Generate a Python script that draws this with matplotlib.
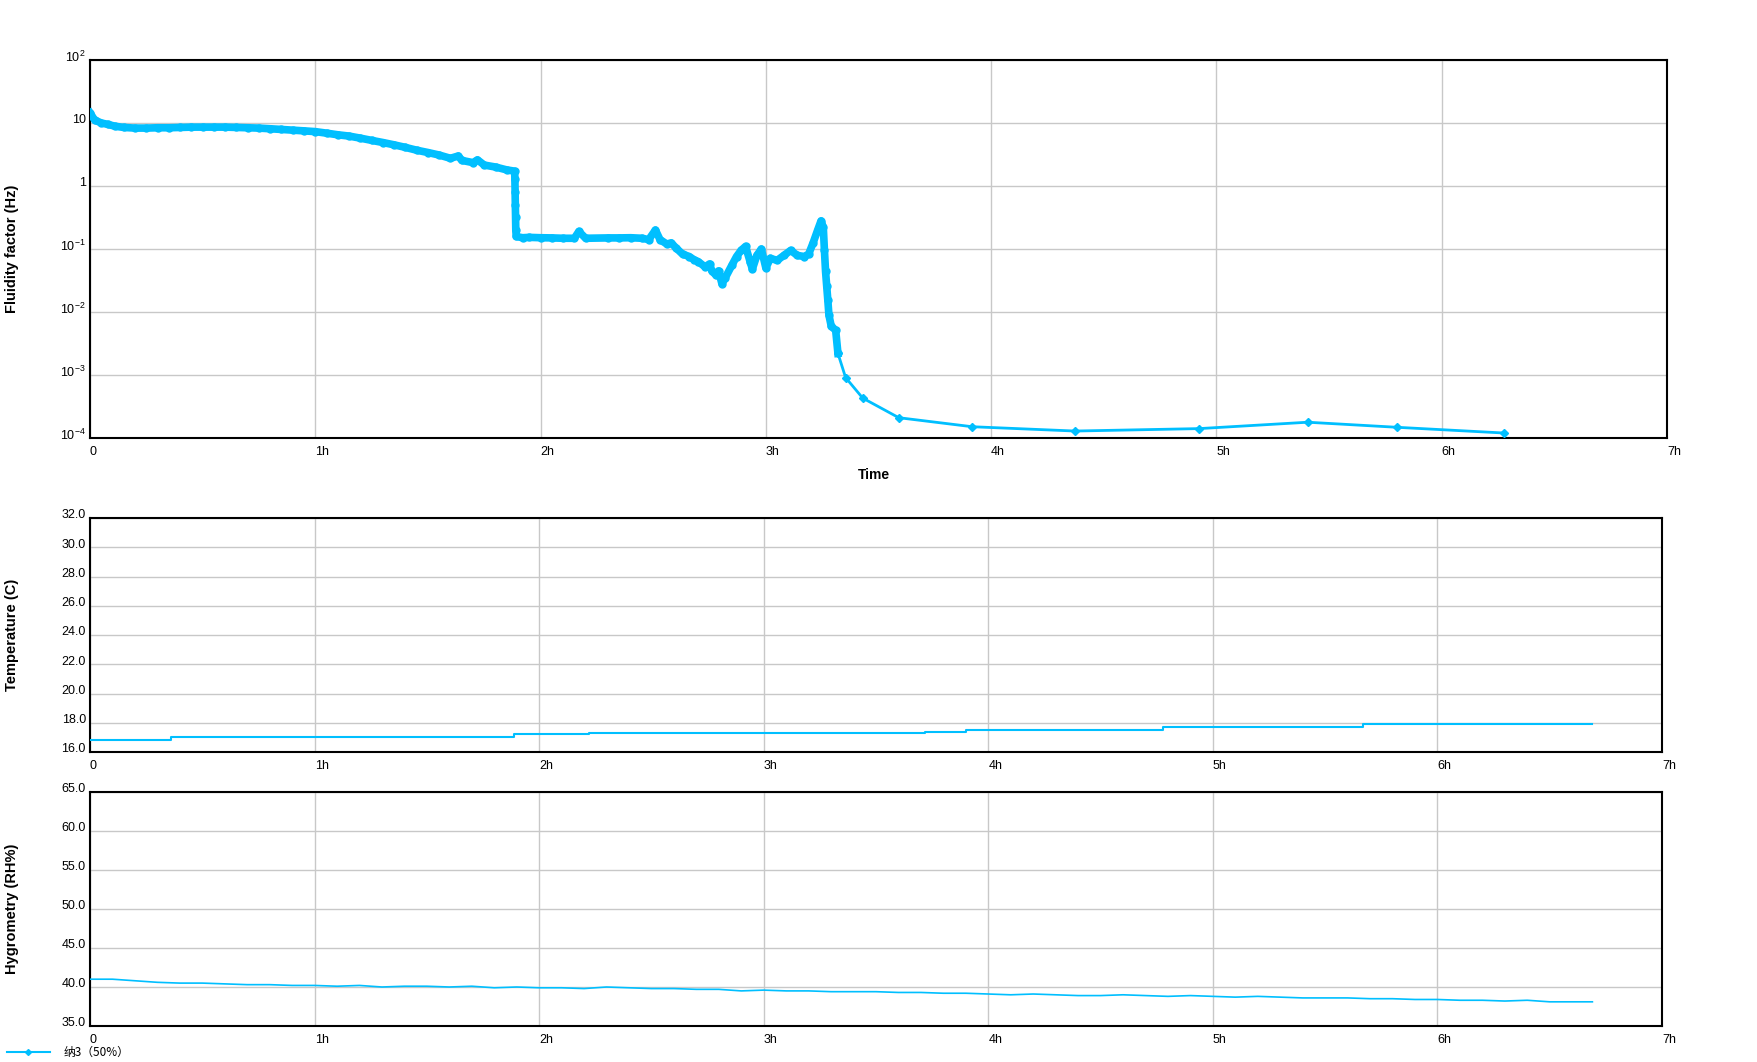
import matplotlib
matplotlib.use("Agg")
import matplotlib.pyplot as plt
import matplotlib.transforms as mtransforms
from matplotlib.ticker import FixedLocator, NullLocator

plt.rcParams['font.family'] = ['Liberation Sans', 'DejaVu Sans']
plt.rcParams['mathtext.fontset'] = 'custom'
plt.rcParams['mathtext.rm'] = 'Liberation Sans'
plt.rcParams['mathtext.it'] = 'Liberation Sans'

# ---- данные (время в часах) ----
hour_ticks = [0, 1, 2, 3, 4, 5, 6, 7]
hour_labels = ['0', '1h', '2h', '3h', '4h', '5h', '6h', '7h']

# fluidity factor, Hz (плотная часть до 3.32h, дальше редкие точки)
flu_t = [0.00, 0.02, 0.05, 0.08, 0.11, 0.15, 0.20, 0.25, 0.30, 0.35, 0.40, 0.45,
         0.50, 0.55, 0.60, 0.65, 0.70, 0.75, 0.80, 0.85, 0.90, 0.95, 1.00, 1.05,
         1.10, 1.15, 1.20, 1.25, 1.30, 1.35, 1.40, 1.45, 1.50, 1.55, 1.60, 1.635,
         1.65, 1.70, 1.72, 1.75, 1.80, 1.85, 1.885,
         1.886, 1.887, 1.888, 1.889, 1.890, 1.892,
         1.92, 1.95, 2.00, 2.05, 2.10, 2.15, 2.17, 2.20, 2.30, 2.35, 2.40, 2.45,
         2.48, 2.51, 2.53, 2.56, 2.58, 2.60, 2.63, 2.66, 2.68, 2.70, 2.73, 2.75,
         2.76, 2.78, 2.79, 2.805, 2.82, 2.85, 2.87, 2.89, 2.91, 2.93, 2.94, 2.96,
         2.98, 3.00, 3.02, 3.05, 3.08, 3.11, 3.14, 3.17, 3.19, 3.21, 3.23, 3.245,
         3.255, 3.26, 3.265, 3.27, 3.275, 3.28, 3.29, 3.31, 3.32,
         3.354, 3.43, 3.59, 3.916, 4.372, 4.924, 5.405, 5.80, 6.276]
flu_v = [14.5, 11.2, 10.0, 9.5, 8.9, 8.5, 8.3, 8.3, 8.4, 8.4, 8.5, 8.6,
         8.6, 8.6, 8.6, 8.5, 8.4, 8.3, 8.1, 7.9, 7.7, 7.5, 7.3, 6.9,
         6.5, 6.2, 5.75, 5.3, 4.9, 4.5, 4.1, 3.7, 3.4, 3.1, 2.75, 3.0,
         2.55, 2.35, 2.6, 2.15, 2.0, 1.8, 1.72,
         1.3, 0.8, 0.5, 0.32, 0.2, 0.158,
         0.151, 0.153, 0.151, 0.150, 0.148, 0.148, 0.19, 0.148, 0.150, 0.150, 0.151, 0.148,
         0.141, 0.20, 0.141, 0.120, 0.125, 0.105, 0.083, 0.076, 0.068, 0.063, 0.052, 0.058,
         0.045, 0.038, 0.045, 0.028, 0.035, 0.056, 0.076, 0.095, 0.11, 0.063, 0.048, 0.079,
         0.100, 0.050, 0.071, 0.066, 0.079, 0.095, 0.079, 0.076, 0.083, 0.126, 0.20, 0.28,
         0.22, 0.095, 0.044, 0.026, 0.0155, 0.0089, 0.0060, 0.0051, 0.0022,
         0.00091, 0.00043, 0.00021, 0.000151, 0.000129, 0.000141, 0.000178, 0.000148, 0.000120]
n_dense = 106  # сколько точек в плотной части

# температура, ступеньки
temp_t = [0, 0.36, 1.89, 2.22, 3.72, 3.90, 4.78, 5.67, 6.69]
temp_v = [16.8, 17.0, 17.2, 17.3, 17.4, 17.5, 17.7, 17.9, 17.9]

# влажность, шаг 0.1h
hum_t = [0.0, 0.1, 0.2, 0.3, 0.4, 0.5, 0.6, 0.7, 0.8, 0.9, 1.0, 1.1, 1.2, 1.3, 1.4,
         1.5, 1.6, 1.7, 1.8, 1.9, 2.0, 2.1, 2.2, 2.3, 2.4, 2.5, 2.6, 2.7, 2.8, 2.9,
         3.0, 3.1, 3.2, 3.3, 3.4, 3.5, 3.6, 3.7, 3.8, 3.9, 4.0, 4.1, 4.2, 4.3, 4.4,
         4.5, 4.6, 4.7, 4.8, 4.9, 5.0, 5.1, 5.2, 5.3, 5.4, 5.5, 5.6, 5.7, 5.8, 5.9,
         6.0, 6.1, 6.2, 6.3, 6.4, 6.5, 6.6, 6.69]
hum_v = [41.0, 41.0, 40.8, 40.6, 40.5, 40.5, 40.4, 40.3, 40.3, 40.2, 40.2, 40.1, 40.2, 40.0, 40.1,
         40.1, 40.0, 40.1, 39.9, 40.0, 39.9, 39.9, 39.8, 40.0, 39.9, 39.8, 39.8, 39.7, 39.7, 39.5,
         39.6, 39.5, 39.5, 39.4, 39.4, 39.4, 39.3, 39.3, 39.2, 39.2, 39.1, 39.0, 39.1, 39.0, 38.9,
         38.9, 39.0, 38.9, 38.8, 38.9, 38.8, 38.7, 38.8, 38.7, 38.6, 38.6, 38.6, 38.5, 38.5, 38.4,
         38.4, 38.3, 38.3, 38.2, 38.3, 38.1, 38.1, 38.1]

series_name = '纳3（50%）'
blue = '#00BFFF'
grid_c = '#c8c8c8'

W, H = 1757, 1062
fig = plt.figure(figsize=(W / 100, H / 100), dpi=100)

ax1 = fig.add_axes([90 / W, 1 - 438 / H, (1667 - 90) / W, (438 - 60) / H])
ax2 = fig.add_axes([90 / W, 1 - 752 / H, (1662 - 90) / W, (752 - 518) / H])
ax3 = fig.add_axes([90 / W, 1 - 1026 / H, (1662 - 90) / W, (1026 - 792) / H])

# верхний график
ax1.set_yscale('log')
ax1.plot(flu_t[:n_dense], flu_v[:n_dense], color=blue, lw=5.5, marker='o', ms=5,
         solid_joinstyle='round', zorder=3)
line, = ax1.plot(flu_t[n_dense - 1:], flu_v[n_dense - 1:], color=blue, lw=2,
                 marker='D', ms=4, zorder=3)
ax1.set_ylim(1e-4, 1e2)
ax1.yaxis.set_major_locator(FixedLocator([1e-4, 1e-3, 1e-2, 1e-1, 1, 10, 100]))
ax1.yaxis.set_minor_locator(NullLocator())
ax1.set_yticklabels(['$10^{-4}$', '$10^{-3}$', '$10^{-2}$', '$10^{-1}$', '1', '10', '$10^{2}$'])

ax2.plot(temp_t, temp_v, color=blue, lw=1.5, drawstyle='steps-post', zorder=3)
ax2.set_ylim(16, 32)
ax2.set_yticks([16, 18, 20, 22, 24, 26, 28, 30, 32])
ax2.set_yticklabels(['%.1f' % v for v in [16, 18, 20, 22, 24, 26, 28, 30, 32]])

ax3.plot(hum_t, hum_v, color=blue, lw=1.2, zorder=3)
ax3.set_ylim(35, 65)
ax3.set_yticks([35, 40, 45, 50, 55, 60, 65])
ax3.set_yticklabels(['%.1f' % v for v in [35, 40, 45, 50, 55, 60, 65]])

offset = mtransforms.ScaledTranslation(0, 3 / 72, fig.dpi_scale_trans)
for ax in (ax1, ax2, ax3):
    ax.set_xlim(0, 7)
    ax.set_xticks(hour_ticks)
    ax.set_xticklabels(hour_labels)
    ax.grid(True, color=grid_c, lw=1)
    ax.set_axisbelow(True)
    ax.tick_params(length=0, labelsize=9, pad=3)
    ax.tick_params(axis='x', pad=6)
    for lbl in ax.get_xticklabels():
        lbl.set_ha('left')
    for lbl in ax.get_yticklabels():
        lbl.set_transform(lbl.get_transform() + offset)
    for s in ax.spines.values():
        s.set_linewidth(1.5)
        s.set_color('black')

fig.text(874 / W, 1 - 475 / H, 'Time', ha='center', va='center', fontsize=10, fontweight='bold')
fig.text(12 / W, 1 - 249 / H, 'Fluidity factor (Hz)', rotation=90, ha='center', va='center',
         fontsize=10.5, fontweight='bold')
fig.text(12 / W, 1 - 635 / H, 'Temperature (C)', rotation=90, ha='center', va='center',
         fontsize=10.5, fontweight='bold')
fig.text(12 / W, 1 - 909 / H, 'Hygrometry (RH%)', rotation=90, ha='center', va='center',
         fontsize=10.5, fontweight='bold')

leg = fig.legend(handles=[line], labels=[series_name], loc='lower left',
                 bbox_to_anchor=(0.0, -0.004), frameon=False, handlelength=3.6,
                 borderaxespad=0.2, handletextpad=1.2,
                 prop={'family': ['Noto Sans CJK SC', 'DejaVu Sans'], 'size': 8.5})
leg.get_lines()[0].set_linewidth(1.5)
leg.get_lines()[0].set_markersize(3)

fig.savefig('out.png', dpi=100)
